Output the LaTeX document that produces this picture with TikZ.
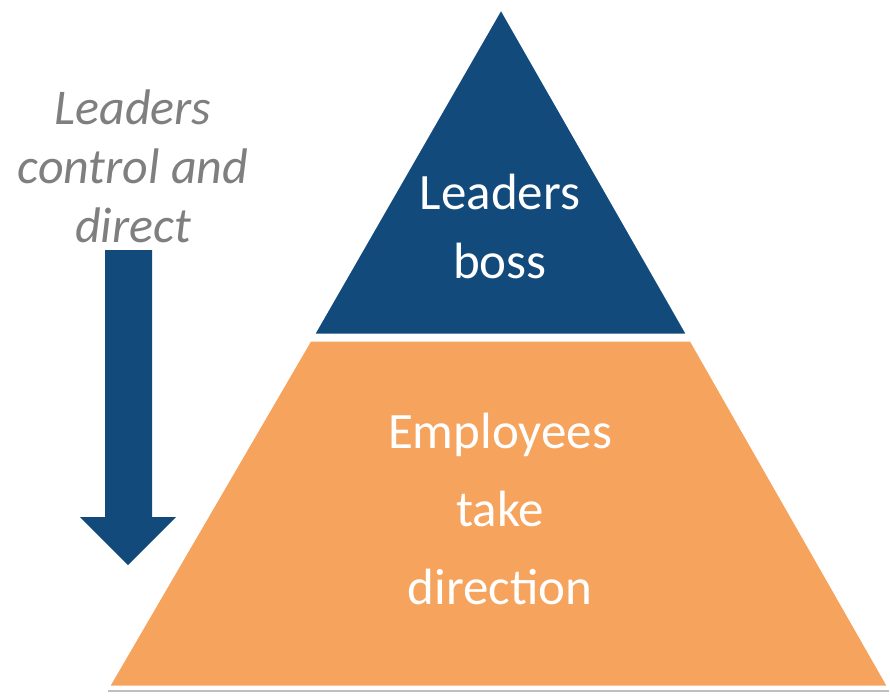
\documentclass[tikz,border=0pt]{standalone}
\usepackage{fontspec}
\setmainfont{Carlito}
\usepackage{tikz}
\definecolor{bossblue}{HTML}{134A7C}
\definecolor{staffor}{HTML}{F6A35D}
\definecolor{notegray}{HTML}{7F7F7F}

\begin{document}
\begin{tikzpicture}[x=1pt, y=-1pt, line join=miter]
		\tikzstyle{layer}=[draw=white, line width=3pt]
		\tikzstyle{label}=[text=white, align=center, inner sep=0pt]
		\useasboundingbox (0,0) rectangle (890,695);

		% Draw shadow and pyramid layers
		\draw[black!25, line width=2pt] (108,691) -- (889,691);
		\filldraw[layer, fill=staffor] (310,340) -- (691,340) -- (889,687) -- (108,687) -- cycle;
		\filldraw[layer, fill=bossblue] (501,8) -- (688,335) -- (313,335) -- cycle;

		% Draw arrow
		\fill[bossblue] (105,250) -- (152,250) -- (152,517) -- (176,517) -- (128,565) -- (80,517) -- (105,517) -- cycle;

		% Draw texts
		\node[label, font=\fontsize{51}{69}\selectfont] (boss) at (500,226) {Leaders\\boss};
		\node[label, font=\fontsize{51}{78}\selectfont] (staff) at (500,509) {Employees\\take\\direction};
		\node[label, text=notegray, font=\fontsize{50}{59}\selectfont\itshape] (note) at (133,166) {Leaders\\control and\\direct};

		\end{tikzpicture}
\end{document}
